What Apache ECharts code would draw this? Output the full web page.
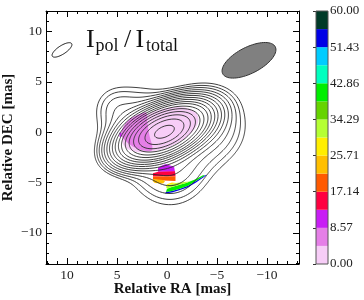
<!DOCTYPE html>
<html><head><meta charset="utf-8">
<script src="https://cdn.jsdelivr.net/npm/echarts@6/dist/echarts.min.js"></script>
<style>html,body{margin:0;padding:0;background:#fff}#c{width:364px;height:300px}</style>
</head><body><div id="c"></div>
<script>
// ---------------- data ----------------
const raRange = [-13.2, 12.1];      // Relative RA (axis reversed)
const decRange = [-13.1, 12.05];    // Relative DEC
const majorTicks = [-10, -5, 0, 5, 10];
const minorTicks = [-13,-12,-11,-9,-8,-7,-6,-4,-3,-2,-1,1,2,3,4,6,7,8,9,11,12];
// total intensity contour levels (fraction of peak, factor sqrt2)
const contourLevels = [0.0035,0.005,0.007,0.01,0.014,0.02,0.028,0.04,0.056,0.08,0.11,0.16,0.225,0.32,0.45,0.64,0.9];
// Gaussian components of the total-intensity image: [RA, DEC, amp, sigmaMajor, sigmaMinor, tilt(deg)]
const intensityComponents = [
  [0.25, 0.05, 1.0, 2.15, 1.07, 24],
  [2.8, 0.5, 0.0136, 2.3, 2.3, 0],
  [-4.0, 0.6, 0.0136, 2.3, 2.3, 0],
  [-0.3, -3.4, 0.0136, 2.3, 2.3, 0],
  [5.3, 2.6, 0.004, 1.3, 1.3, 0]
];
// beams: [RA, DEC, semiMajor, semiMinor, tilt]
const beamTotal = [-8.2, 7.15, 2.95, 1.3, 27];
const beamSmall = [10.5, 8.18, 1.15, 0.42, 33];
// colour bar (fractional polarisation, %)
const cbEdges = [0, 4.29, 8.57, 12.86, 17.14, 21.43, 25.71, 30.00, 34.29, 38.57, 42.86, 47.14, 51.43, 55.71, 60.00];
const cbColors = ['#f7cdf7','#e57fe7','#c81ef5','#ff0040','#ff5a00','#ffbf00','#ffee00','#b5ff33','#66d400','#00ee00','#00ffbf','#00ccff','#0000e6','#003a28'];
const cbLabels = [0, 8.57, 17.14, 25.71, 34.29, 42.86, 51.43, 60];
// fractional polarisation patches (RA, DEC vertices) and their values (%)
const polCoreEllipse = [0.67, 0.25, 4.0, 1.9, 20];
const polCoreValue = 2;
const polOrchid = [[4.57,-0.25],[4.37,0.55],[3.67,1.34],[2.67,1.84],[2.07,1.93],[1.97,1.04],[1.77,-0.25],[1.47,-1.74],[2.17,-1.84],[3.17,-1.54],[4.07,-0.94]];
const polDot = [[4.75,-0.05],[4.55,-0.05],[4.55,-0.45],[4.75,-0.45]];
const polPurple = [[0.9,-3.92],[0.9,-3.52],[0.5,-3.32],[0.1,-3.17],[-0.3,-3.32],[-0.7,-3.42],[-0.8,-3.92]];
const polRed = [[1.4,-4.07],[0.9,-3.92],[-0.8,-3.87],[-0.85,-4.37],[1.4,-4.41]];
const polOrange = [[1.4,-4.41],[-0.85,-4.37],[-0.85,-4.86],[0.4,-4.81],[1.4,-4.71]];
const polAmber = [[1.4,-4.66],[0.4,-4.76],[0.2,-4.91],[0.4,-5.11],[1.2,-5.06],[1.4,-4.91]];
const polArcBlue = [[0.2,-6.10],[-0.5,-6.00],[-1.3,-5.75],[-2.1,-5.46],[-2.9,-5.01],[-3.7,-4.46],[-4.0,-4.22],[-3.8,-4.27],[-2.9,-4.86],[-2.1,-5.31],[-1.3,-5.61],[-0.5,-5.85],[0.1,-5.95]];
const polArcGreen = [[0.1,-5.95],[-0.5,-5.85],[-1.3,-5.61],[-2.1,-5.31],[-2.9,-4.86],[-3.8,-4.27],[-3.6,-4.27],[-2.8,-4.71],[-1.9,-5.06],[-1.1,-5.26],[-0.4,-5.46],[0.0,-5.61]];
const polArcLime = [[0.0,-5.61],[-0.4,-5.46],[-1.1,-5.26],[-1.9,-5.06],[-2.3,-4.91],[-1.7,-4.96],[-0.9,-5.06],[-0.2,-5.21],[0.1,-5.41]];
const polArcYellow = [[0.1,-5.41],[-0.2,-5.21],[-0.9,-5.06],[-0.5,-5.01],[0.0,-5.16]];
const polPatches = [polOrchid, polDot, polPurple, polRed, polOrange, polAmber, polArcBlue, polArcGreen, polArcLime, polArcYellow];
const polPatchValues = [6, 10, 10, 15, 20, 24, 53, 40, 32, 27];

// ---------------- helpers ----------------
const FONT = "'Liberation Serif', 'DejaVu Serif', serif";
function colorOf(v){ let k=0; for(let i=0;i<cbColors.length;i++){ if(v>=cbEdges[i]) k=i; } return cbColors[k]; }
function ellipsePts(e, n){
  const [cx, cy, a, b, t] = e, tr = t*Math.PI/180, out=[];
  for(let k=0;k<n;k++){ const s=2*Math.PI*k/n;
    const dx=a*Math.cos(s)*Math.cos(tr)-b*Math.sin(s)*Math.sin(tr);
    const dy=a*Math.cos(s)*Math.sin(tr)+b*Math.sin(s)*Math.cos(tr);
    out.push([cx-dx, cy+dy]); }
  return out;
}
function modelI(ra, dec){
  let s=0;
  for(const c of intensityComponents){
    const [r0,d0,amp,sa,sb,t]=c, tr=t*Math.PI/180;
    const dx=-(ra-r0), dy=dec-d0;
    const u=dx*Math.cos(tr)+dy*Math.sin(tr), v=-dx*Math.sin(tr)+dy*Math.cos(tr);
    s+=amp*Math.exp(-0.5*(u*u/(sa*sa)+v*v/(sb*sb)));
  }
  return s;
}
// marching squares -> polylines in data coords
const STEP=0.1;
const xs=[], ys=[];
for(let x=raRange[0]; x<=raRange[1]+1e-9; x+=STEP) xs.push(x);
for(let y=decRange[0]; y<=decRange[1]+1e-9; y+=STEP) ys.push(y);
const nx=xs.length, ny=ys.length;
const G=[]; for(let j=0;j<ny;j++){ const row=new Float64Array(nx); for(let i=0;i<nx;i++) row[i]=modelI(xs[i],ys[j]); G.push(row); }
const CASES={1:[[3,0]],2:[[0,1]],3:[[3,1]],4:[[1,2]],6:[[0,2]],7:[[3,2]],8:[[2,3]],9:[[0,2]],11:[[1,2]],12:[[1,3]],13:[[0,1]],14:[[3,0]]};
function contourLines(L){
  const pts=new Map(), adj=new Map(), segs=[];
  function edgePt(i,j,e){
    let key,x,y,va,vb;
    if(e===0){ key='h'+j+'_'+i; va=G[j][i]; vb=G[j][i+1]; const f=(L-va)/(vb-va); x=xs[i]+f*STEP; y=ys[j]; }
    else if(e===2){ key='h'+(j+1)+'_'+i; va=G[j+1][i]; vb=G[j+1][i+1]; const f=(L-va)/(vb-va); x=xs[i]+f*STEP; y=ys[j+1]; }
    else if(e===3){ key='v'+j+'_'+i; va=G[j][i]; vb=G[j+1][i]; const f=(L-va)/(vb-va); x=xs[i]; y=ys[j]+f*STEP; }
    else { key='v'+j+'_'+(i+1); va=G[j][i+1]; vb=G[j+1][i+1]; const f=(L-va)/(vb-va); x=xs[i+1]; y=ys[j]+f*STEP; }
    if(!pts.has(key)) pts.set(key,[x,y]);
    return key;
  }
  for(let j=0;j<ny-1;j++) for(let i=0;i<nx-1;i++){
    const v0=G[j][i],v1=G[j][i+1],v2=G[j+1][i+1],v3=G[j+1][i];
    const idx=(v0>L?1:0)|(v1>L?2:0)|(v2>L?4:0)|(v3>L?8:0);
    let pairs=CASES[idx];
    if(idx===5||idx===10){ const c=(v0+v1+v2+v3)/4>L;
      pairs = idx===5 ? (c?[[3,2],[0,1]]:[[3,0],[1,2]]) : (c?[[0,3],[1,2]]:[[0,1],[2,3]]); }
    if(!pairs) continue;
    for(const p of pairs){ const a=edgePt(i,j,p[0]), b=edgePt(i,j,p[1]); const s=segs.length; segs.push([a,b]);
      if(!adj.has(a)) adj.set(a,[]); adj.get(a).push(s); if(!adj.has(b)) adj.set(b,[]); adj.get(b).push(s); }
  }
  const used=new Uint8Array(segs.length), lines=[];
  for(let s=0;s<segs.length;s++){ if(used[s]) continue; used[s]=1;
    const chain=[segs[s][0],segs[s][1]];
    for(let dir=0;dir<2;dir++){
      while(true){ const end=chain[chain.length-1]; const nb=(adj.get(end)||[]).find(q=>!used[q]); if(nb===undefined) break; used[nb]=1; const sg=segs[nb]; chain.push(sg[0]===end?sg[1]:sg[0]); }
      chain.reverse();
    }
    lines.push(chain.map(k=>pts.get(k)));
  }
  return lines;
}
const contourPaths = contourLevels.map(L=>contourLines(L));

// ---------------- chart ----------------
const chart = echarts.init(document.getElementById('c'), null, {renderer:'canvas'});
const minus = v => String(v).replace('-', '\u2212');
function xAx(pos, ticks, len, extra){ return Object.assign({type:'value', gridIndex:0, position:pos, min:raRange[0], max:raRange[1], inverse:true,
  splitLine:{show:false}, axisLine:{onZero:false, lineStyle:{color:'#000', width:1}},
  axisTick:{customValues:ticks, inside:true, length:len, lineStyle:{color:'#000', width:1}}, axisLabel:{show:false}}, extra||{}); }
function yAx(pos, ticks, len, extra){ return Object.assign({type:'value', gridIndex:0, position:pos, min:decRange[0], max:decRange[1],
  splitLine:{show:false}, axisLine:{onZero:false, lineStyle:{color:'#000', width:1}},
  axisTick:{customValues:ticks, inside:true, length:len, lineStyle:{color:'#000', width:1}}, axisLabel:{show:false}}, extra||{}); }
const tickLabel = {show:true, customValues:majorTicks, formatter:minus, fontFamily:FONT, fontSize:13.5, color:'#222'};

const polyItems = [];
polyItems.push({pts: ellipsePts(polCoreEllipse, 72), fill: colorOf(polCoreValue), smooth:0});
polPatches.forEach((p,i)=>polyItems.push({pts:p, fill:colorOf(polPatchValues[i]), smooth:(i===0?0.35:0)}));

const option = {
  animation:false,
  grid:[{left:46, right:65, top:11, bottom:36, containLabel:false, outerBoundsMode:'none'},
        {left:316, width:12, top:11, bottom:36, containLabel:false, outerBoundsMode:'none'}],
  xAxis:[
    xAx('bottom', majorTicks, 6, {axisLabel:Object.assign({margin:4}, tickLabel), name:'Relative RA [mas]', nameLocation:'middle', nameGap:18, nameMoveOverlap:false,
      nameTextStyle:{fontFamily:FONT, fontWeight:'bold', fontSize:15, color:'#111'}}),
    xAx('bottom', minorTicks, 3, {axisLine:{show:false, onZero:false}}),
    xAx('top', majorTicks, 6),
    xAx('top', minorTicks, 3, {axisLine:{show:false, onZero:false}}),
    {type:'value', gridIndex:1, min:0, max:1, show:false}
  ],
  yAxis:[
    yAx('left', majorTicks, 6, {axisLabel:Object.assign({margin:4}, tickLabel)}),
    yAx('left', minorTicks, 3, {axisLine:{show:false, onZero:false}}),
    yAx('right', majorTicks, 6),
    yAx('right', minorTicks, 3, {axisLine:{show:false, onZero:false}}),
    {type:'value', gridIndex:1, position:'right', min:0, max:60, splitLine:{show:false}, axisLine:{show:false},
      axisTick:{customValues:cbLabels, inside:true, length:3, lineStyle:{color:'#333'}},
      axisLabel:{customValues:cbLabels, formatter:v=>v.toFixed(2), margin:2, fontFamily:FONT, fontSize:13, color:'#222'}}
  ],
  graphic:[
    {type:'text', x:8.5, y:137.5, rotation:Math.PI/2, style:{text:'Relative DEC [mas]', align:'center', verticalAlign:'middle', font:"bold 15px "+FONT, fill:'#111'}},
    {type:'text', left:86, top:27, style:{text:'I', font:"26px "+FONT, fill:'#111'}},
    {type:'text', left:95.5, top:37, style:{text:'pol', font:"18px "+FONT, fill:'#111'}},
    {type:'text', left:124, top:27, style:{text:'/', font:"26px "+FONT, fill:'#111'}},
    {type:'text', left:135.5, top:27, style:{text:'I', font:"26px "+FONT, fill:'#111'}},
    {type:'text', left:146, top:37, style:{text:'total', font:"18px "+FONT, fill:'#111'}}
  ],
  series:[
    {type:'custom', coordinateSystem:'cartesian2d', xAxisIndex:0, yAxisIndex:0, silent:true, clip:true,
     data: polyItems.map((p,i)=>[i]),
     renderItem:(params, api)=>{ const it=polyItems[params.dataIndex];
       return {type:'polygon', shape:{points: it.pts.map(p=>api.coord(p)), smooth: it.smooth}, style:{fill: it.fill, stroke:null}}; }},
    {type:'custom', coordinateSystem:'cartesian2d', xAxisIndex:0, yAxisIndex:0, silent:true, clip:true,
     data: contourLevels.map((l,i)=>[i]),
     renderItem:(params, api)=>{ const lines=contourPaths[params.dataIndex];
       return {type:'group', children: lines.map(ln=>({type:'polyline', shape:{points: ln.map(p=>api.coord(p))},
         style:{stroke:'#2a2a2a', lineWidth:0.9, fill:null}}))}; }},
    {type:'custom', coordinateSystem:'cartesian2d', xAxisIndex:0, yAxisIndex:0, silent:true,
     data:[[0],[1]],
     renderItem:(params, api)=>{ const b = params.dataIndex===0 ? beamTotal : beamSmall;
       return {type:'polygon', shape:{points: ellipsePts(b, 72).map(p=>api.coord(p))},
         style: params.dataIndex===0 ? {fill:'#808080', stroke:'#333', lineWidth:1} : {fill:null, stroke:'#111', lineWidth:1}}; }},
    {type:'custom', coordinateSystem:'cartesian2d', xAxisIndex:4, yAxisIndex:4, silent:true,
     data: cbColors.map((c,i)=>[i]).concat([[cbColors.length]]),
     renderItem:(params, api)=>{ const i=params.dataIndex;
       if(i<cbColors.length){ const p0=api.coord([0, cbEdges[i]]), p1=api.coord([1, cbEdges[i+1]]);
         return {type:'rect', shape:{x:p0[0], y:p1[1], width:p1[0]-p0[0], height:p0[1]-p1[1]}, style:{fill:cbColors[i]}}; }
       const p0=api.coord([0,0]), p1=api.coord([1,60]);
       return {type:'rect', shape:{x:p0[0], y:p1[1], width:p1[0]-p0[0], height:p0[1]-p1[1]}, style:{fill:null, stroke:'#555', lineWidth:1}, z2:10}; }}
  ]
};
chart.setOption(option);
</script></body></html>
